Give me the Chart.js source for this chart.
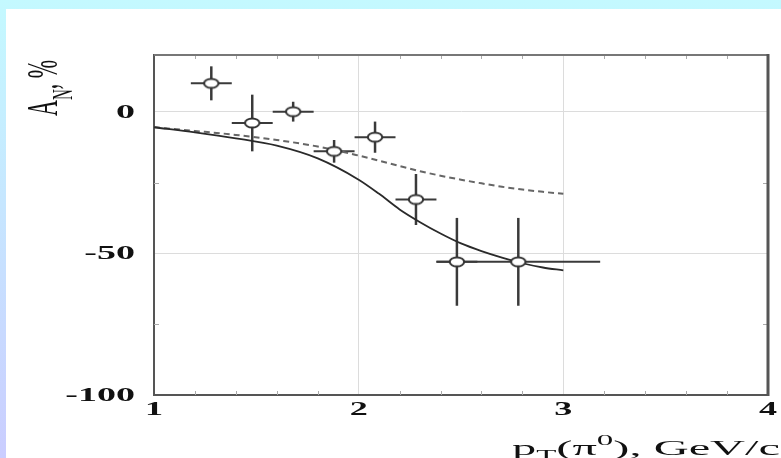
<!DOCTYPE html>
<html>
<head>
<meta charset="utf-8">
<script src="https://cdn.jsdelivr.net/npm/chart.js@4"></script>
<style>
html,body{margin:0;padding:0;}
body{width:781px;height:458px;overflow:hidden;position:relative;
 background:linear-gradient(180deg,#c4f9ff 0%,#c6e6ff 45%,#cacdff 100%);}
#panel{position:absolute;left:6px;top:9px;width:775px;height:449px;background:#fff;}
#c{position:absolute;left:0;top:0;}
</style>
</head>
<body>
<div id="panel"></div>
<canvas id="c" width="781" height="458"></canvas>
<script>
// ---- data ----
const ptValues   = [1.28, 1.48, 1.68, 1.88, 2.08, 2.28, 2.48, 2.78];
const anValues   = [10, -4, 0, -14, -9, -31, -53, -53];
const anErrors   = [6, 10, 3.5, 4, 5.5, 9, 15.5, 15.5];
const ptErrors   = [0.1, 0.1, 0.1, 0.1, 0.1, 0.1, 0.1, 0.4];

const curveX     = [1, 1.2, 1.4, 1.6, 1.8, 2.0, 2.1, 2.2, 2.3, 2.4, 2.5, 2.6, 2.7, 2.8, 2.9, 3.0];
const solidCurve = [-5.5, -7.3, -9.4, -12, -16.5, -24, -29, -34.5, -39, -43, -46.5, -49.2, -51.5, -53.5, -55, -56];
const dashedCurve= [-5.5, -6.8, -8.2, -10, -12.3, -15.5, -17.3, -19.2, -21, -22.6, -24, -25.3, -26.5, -27.5, -28.3, -29];

const xTicks = [1, 2, 3, 4];
const yTicks = [-100, -50, 0];
const xTickLabels = ['1', '2', '3', '4'];
const yTickLabels = ['-100', '-50', '0'];
const xMinorTicks = [1.2,1.4,1.6,1.8,2.2,2.4,2.6,2.8,3.2,3.4,3.6,3.8];
const yMinorTicks = [-75, -25];

// ---- marker: open ellipse ----
function ellipseMarker(){
  const c = document.createElement('canvas');
  c.width = 20; c.height = 14;
  const g = c.getContext('2d');
  g.beginPath();
  g.ellipse(10, 7, 7.2, 4.6, 0, 0, Math.PI*2);
  g.fillStyle = '#fff'; g.fill();
  g.lineWidth = 2; g.strokeStyle = '#333'; g.stroke();
  return c;
}

const SX = 2.0; // horizontal stretch of reference text

const decor = {
  id: 'decor',
  beforeDatasetsDraw(chart){
    const ctx = chart.ctx, xs = chart.scales.x, ys = chart.scales.y, a = chart.chartArea;
    ctx.save();
    // minor ticks
    ctx.strokeStyle = '#aaa'; ctx.lineWidth = 1;
    xMinorTicks.forEach(v=>{
      const px = Math.round(xs.getPixelForValue(v))+0.5;
      ctx.beginPath(); ctx.moveTo(px, a.bottom); ctx.lineTo(px, a.bottom-4); ctx.stroke();
      ctx.beginPath(); ctx.moveTo(px, a.top); ctx.lineTo(px, a.top+4); ctx.stroke();
    });
    yMinorTicks.forEach(v=>{
      const py = Math.round(ys.getPixelForValue(v))+0.5;
      ctx.beginPath(); ctx.moveTo(a.left, py); ctx.lineTo(a.left+5, py); ctx.stroke();
      ctx.beginPath(); ctx.moveTo(a.right, py); ctx.lineTo(a.right-5, py); ctx.stroke();
    });
    // error bars
    ctx.strokeStyle = '#3a3a3a';
    ptValues.forEach((x,i)=>{
      const px = xs.getPixelForValue(x), py = ys.getPixelForValue(anValues[i]);
      ctx.lineWidth = 2.5;
      ctx.beginPath();
      ctx.moveTo(px, ys.getPixelForValue(anValues[i]+anErrors[i]));
      ctx.lineTo(px, ys.getPixelForValue(anValues[i]-anErrors[i]));
      ctx.stroke();
      ctx.lineWidth = 2;
      ctx.beginPath();
      ctx.moveTo(xs.getPixelForValue(x-ptErrors[i]), py);
      ctx.lineTo(xs.getPixelForValue(x+ptErrors[i]), py);
      ctx.stroke();
    });
    ctx.restore();
  },
  afterDraw(chart){
    const ctx = chart.ctx, xs = chart.scales.x, ys = chart.scales.y, a = chart.chartArea;
    ctx.save();
    // top and right frame
    ctx.strokeStyle = '#777'; ctx.lineWidth = 2;
    ctx.beginPath(); ctx.moveTo(a.left, a.top); ctx.lineTo(a.right, a.top); ctx.stroke();
    ctx.strokeStyle = '#555'; ctx.lineWidth = 3;
    ctx.beginPath(); ctx.moveTo(a.right, a.top-1); ctx.lineTo(a.right, a.bottom+1); ctx.stroke();

    ctx.fillStyle = '#111';
    // x tick labels
    ctx.font = 'bold 19px "Liberation Serif", serif';
    ctx.textBaseline = 'middle'; ctx.textAlign = 'center';
    xs.ticks.forEach(t=>{
      const px = xs.getPixelForValue(t.value);
      ctx.save(); ctx.translate(px, a.bottom+15); ctx.scale(1.9,1);
      ctx.fillText(t.label, 0, 0); ctx.restore();
    });
    // y tick labels
    ctx.font = 'bold 19px "Liberation Serif", serif';
    ctx.textAlign = 'right';
    ys.ticks.forEach(t=>{
      const py = ys.getPixelForValue(t.value);
      ctx.save(); ctx.translate(a.left-19, py+1); ctx.scale(SX,1);
      ctx.fillText(t.label, 0, 0); ctx.restore();
    });

    // y title: A_N, %
    ctx.textAlign = 'left'; ctx.textBaseline = 'alphabetic';
    ctx.save();
    ctx.translate(57, 116); ctx.scale(SX,1); ctx.rotate(-Math.PI/2);
    const big = '22px "Liberation Serif", serif', small = '15px "Liberation Serif", serif';
    let x = 0;
    ctx.font = big; ctx.fillText('A', x, 0); x += ctx.measureText('A').width;
    ctx.font = small; ctx.fillText('N', x, 7.5); x += ctx.measureText('N').width;
    ctx.font = big; ctx.fillText(', %', x, 0);
    ctx.restore();

    // x title: p_T(π^0), GeV/c
    const parts = [
      {t:'p', f:big, dy:0},
      {t:'T', f:small, dy:5},
      {t:'(\u03c0', f:big, dy:0},
      {t:'0', f:small, dy:-10},
      {t:'), GeV/c', f:big, dy:0}
    ];
    let w = 0;
    parts.forEach(p=>{ ctx.font = p.f; p.w = ctx.measureText(p.t).width; w += p.w; });
    const XS = 2.2;
    ctx.save();
    ctx.translate(780 - w*XS, 455); ctx.scale(XS,1);
    x = 0;
    parts.forEach(p=>{ ctx.font = p.f; ctx.fillText(p.t, x, p.dy); x += p.w; });
    ctx.restore();
    ctx.restore();
  }
};

new Chart(document.getElementById('c'), {
  type: 'scatter',
  data: {
    datasets: [
      {
        label: 'data',
        data: ptValues.map((x,i)=>({x, y: anValues[i]})),
        pointStyle: ellipseMarker(),
        pointRadius: 7,
        showLine: false,
        order: 0
      },
      {
        label: 'solid',
        data: curveX.map((x,i)=>({x, y: solidCurve[i]})),
        showLine: true, pointRadius: 0,
        borderColor: '#2a2a2a', borderWidth: 1.8,
        cubicInterpolationMode: 'monotone',
        order: 1
      },
      {
        label: 'dashed',
        data: curveX.map((x,i)=>({x, y: dashedCurve[i]})),
        showLine: true, pointRadius: 0,
        borderColor: '#666', borderWidth: 2, borderDash: [6, 4],
        cubicInterpolationMode: 'monotone',
        order: 2
      }
    ]
  },
  options: {
    responsive: false,
    animation: false,
    events: [],
    layout: { padding: { left: 0, top: 55, right: 13, bottom: 0 } },
    plugins: { legend: { display: false }, tooltip: { enabled: false } },
    scales: {
      x: {
        type: 'linear', min: 1, max: 4,
        afterBuildTicks: s => { s.ticks = xTicks.map(v=>({value:v})); },
        afterFit: s => { s.height = 63; },
        ticks: { display: false, callback: (v) => xTickLabels[xTicks.indexOf(v)] },
        grid: { color: '#dcdcdc', lineWidth: 1, drawTicks: false },
        border: { color: '#555', width: 2 }
      },
      y: {
        type: 'linear', min: -100, max: 20,
        afterBuildTicks: s => { s.ticks = yTicks.map(v=>({value:v})); },
        afterFit: s => { s.width = 154; },
        ticks: { display: false, callback: (v) => yTickLabels[yTicks.indexOf(v)] },
        grid: { color: '#dcdcdc', lineWidth: 1, drawTicks: false },
        border: { color: '#555', width: 2 }
      }
    }
  },
  plugins: [decor]
});
</script>
</body>
</html>
